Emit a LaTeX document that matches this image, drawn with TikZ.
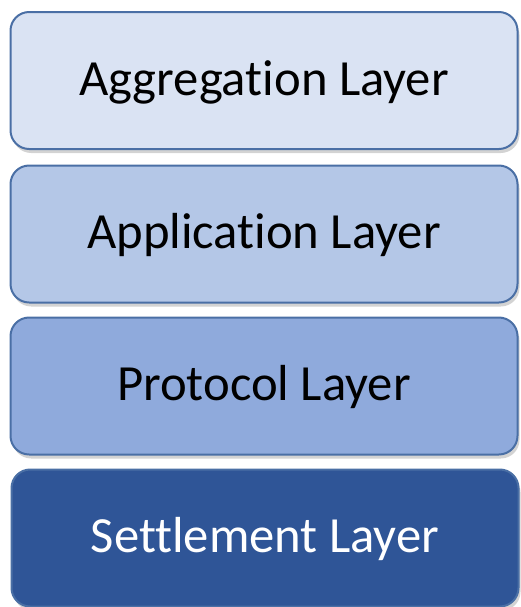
\documentclass[tikz,border=0pt]{standalone}
\usepackage{fontspec}
\setmainfont[Ligatures=NoCommon]{Carlito}
\usetikzlibrary{shadows}
\definecolor{aggfill}{HTML}{DAE3F3}
\definecolor{appfill}{HTML}{B4C7E7}
\definecolor{protofill}{HTML}{8FAADC}
\definecolor{settlefill}{HTML}{2F5597}
\definecolor{layerline}{HTML}{4A6FA5}
\tikzset{every picture/.style={line width=0.75pt}}
\tikzset{layerbox/.style={draw=layerline, line width=1.5pt, rounded corners=14pt,
  minimum width=507*0.75pt, minimum height=137*0.75pt, inner sep=0pt,
  text depth=4pt, font=\fontsize{38}{42}\selectfont,
  drop shadow={shadow xshift=1.5pt, shadow yshift=-3pt, opacity=0.35}}}

\begin{document}
\begin{tikzpicture}[x=0.75pt,y=0.75pt,yscale=-1,xscale=1]
		\useasboundingbox (0,0) rectangle (521,607);

		% Layer: Aggregation
		\node [layerbox, fill=aggfill] (agg) at (264,80.5) {Aggregation Layer};
		% Layer: Application
		\node [layerbox, fill=appfill] (app) at (264,234) {Application Layer};
		% Layer: Protocol
		\node [layerbox, fill=protofill] (proto) at (264,386) {Protocol Layer};
		% Layer: Settlement
		\node [layerbox, fill=settlefill, text=white] (settle) at (265,538) {Settlement Layer};

	\end{tikzpicture}
\end{document}
